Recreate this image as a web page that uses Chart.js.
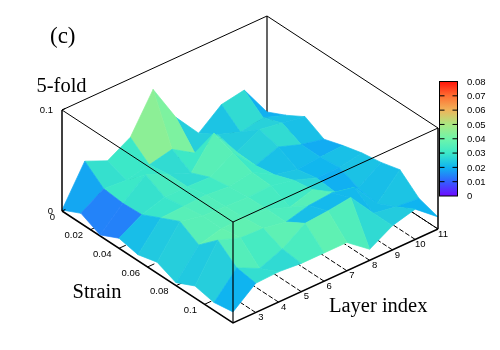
<!DOCTYPE html>
<html>
<head>
  <meta charset="UTF-8">
  <title>5-fold</title>
  <style>
    html, body { margin: 0; background: #fff; }
    #wrap { width: 500px; height: 350px; }
  </style>
  <script src="https://cdn.jsdelivr.net/npm/chart.js"></script>
</head>
<body>
  <div id="wrap"><canvas id="c" width="500" height="350"></canvas></div>
  <script>
    const strain = [0, 0.0133, 0.0267, 0.04, 0.0533, 0.0667, 0.08, 0.0933, 0.1067, 0.12];
    const layers = [2, 3, 4, 5, 6, 7, 8, 9, 10, 11];
    // 5-fold fraction, one row per strain, one column per layer
    const fold = [
      [0.001, 0.039, 0.029, 0.042, 0.079, 0.041, 0.015, 0.033, 0.037, 0.005],
      [0.010, 0.024, 0.022, 0.027, 0.032, 0.018, 0.026, 0.018, 0.022, 0.014],
      [0.001, 0.022, 0.040, 0.030, 0.021, 0.050, 0.021, 0.033, 0.029, 0.025],
      [0.010, 0.023, 0.030, 0.030, 0.029, 0.043, 0.020, 0.028, 0.020, 0.015],
      [0.006, 0.032, 0.033, 0.034, 0.032, 0.036, 0.023, 0.018, 0.020, 0.021],
      [0.011, 0.041, 0.036, 0.035, 0.034, 0.035, 0.030, 0.022, 0.022, 0.026],
      [0.003, 0.030, 0.036, 0.036, 0.034, 0.026, 0.033, 0.020, 0.014, 0.029],
      [0.012, 0.047, 0.039, 0.038, 0.034, 0.040, 0.042, 0.037, 0.011, 0.034],
      [0.008, 0.032, 0.021, 0.030, 0.045, 0.047, 0.050, 0.024, 0.020, 0.018],
      [0.011, 0.029, 0.030, 0.028, 0.028, 0.028, 0.011, 0.024, 0.030, 0.012]
    ];
    // cells whose colour reads differently from the mean of their corners: [row, column, value]
    const cellLevels = [
      [1, 1, 0.030], [3, 0, 0.022], [4, 0, 0.024], [5, 0, 0.025], [6, 0, 0.024],
      [7, 0, 0.025], [8, 0, 0.020], [7, 4, 0.022], [7, 5, 0.021], [7, 6, 0.021],
      [7, 7, 0.022], [7, 8, 0.023]
    ];
    const strainTicks = [0.02, 0.04, 0.06, 0.08, 0.1];
    const layerTicks = [3, 4, 5, 6, 7, 8, 9, 10, 11];
    const foldTicks = [0, 0.1];
    const levelTicks = [0, 0.01, 0.02, 0.03, 0.04, 0.05, 0.06, 0.07, 0.08];
    const levelColors = [
      [110, 10, 255], [50, 95, 255], [15, 180, 240], [60, 232, 200], [110, 245, 170],
      [170, 232, 130], [240, 180, 90], [255, 110, 50], [255, 20, 10]
    ];

    // fixed oblique view of the box
    function project(s, l, z) {
      const a = s / 0.12, b = (l - 2) / 9;
      return { x: 62 + a * 171 + b * 205, y: 211 + a * 112 - b * 94 - z * 1010 };
    }

    function colorFor(v) {
      const t = Math.max(0, Math.min(7.999, v / 0.01));
      const k = Math.floor(t), f = t - k;
      const c = levelColors[k].map((p, n) => Math.round(p + (levelColors[k + 1][n] - p) * f));
      return `rgb(${c[0]},${c[1]},${c[2]})`;
    }

    function lineSet(points, width, dash) {
      return {
        data: points, borderColor: '#000', borderWidth: width, borderDash: dash || [],
        pointRadius: 0, fill: false, tension: 0
      };
    }

    const sets = [];

    // things that sit behind the surface
    const sMax = 0.12;
    sets.push(lineSet([project(0, 11, 0.1), project(0, 11, 0)], 1.2));
    sets.push(lineSet([project(0, 2, 0), project(0, 11, 0), project(sMax, 11, 0)], 1));
    layerTicks.forEach(l => {
      sets.push(lineSet([project(sMax, l, 0), project(sMax - 0.019, l, 0)], 1, [5, 2]));
    });
    strainTicks.forEach(s => {
      sets.push(lineSet([project(s, 2, 0), project(s, 2.3, 0)], 1));
    });
    sets.push(lineSet([project(0, 2, 0), project(sMax, 2, 0), project(sMax, 11, 0)], 1.5));

    // cells, back to front
    for (let i = 0; i < strain.length - 1; i++) {
      for (let j = layers.length - 2; j >= 0; j--) {
        const corners = [[i, j], [i, j + 1], [i + 1, j + 1], [i + 1, j], [i, j]];
        const own = cellLevels.find(c => c[0] === i && c[1] === j);
        const avg = own ? own[2] : (fold[i][j] + fold[i][j + 1] + fold[i + 1][j + 1] + fold[i + 1][j]) / 4;
        const col = colorFor(avg);
        sets.push({
          data: corners.map(([a, b]) => project(strain[a], layers[b], fold[a][b])),
          borderColor: col, backgroundColor: col, borderWidth: 0.7,
          pointRadius: 0, fill: 'shape', tension: 0
        });
      }
    }

    // box edges on top of the surface
    sets.push(lineSet([project(0, 2, 0.1), project(0, 11, 0.1), project(sMax, 11, 0.1), project(sMax, 2, 0.1), project(0, 2, 0.1)], 1));
    sets.push(lineSet([project(0, 2, 0), project(0, 2, 0.1)], 1.5));
    sets.push(lineSet([project(sMax, 2, 0), project(sMax, 2, 0.1)], 1.2));
    sets.push(lineSet([project(sMax, 11, 0), project(sMax, 11, 0.1)], 1.5));
    foldTicks.forEach(z => {
      sets.push(lineSet([project(0, 2, z), project(0, 2.15, z)], 1));
    });

    const labels = {
      id: 'labels',
      afterDatasetsDraw(chart) {
        const ctx = chart.ctx;
        const sx = chart.scales.x, sy = chart.scales.y;
        const px = p => ({ x: sx.getPixelForValue(p.x), y: sy.getPixelForValue(p.y) });
        ctx.save();

        // colour bar
        const bar = { l: 439.5, r: 457.5, t: 81.5, b: 196 };
        const g = ctx.createLinearGradient(0, bar.b, 0, bar.t);
        levelColors.forEach((c, n) => g.addColorStop(n / 8, `rgb(${c[0]},${c[1]},${c[2]})`));
        ctx.fillStyle = g;
        ctx.fillRect(bar.l, bar.t, bar.r - bar.l, bar.b - bar.t);
        ctx.strokeStyle = '#000';
        ctx.lineWidth = 1;
        ctx.strokeRect(bar.l, bar.t, bar.r - bar.l, bar.b - bar.t);

        ctx.font = '9.5px "Liberation Sans"';
        ctx.fillStyle = '#000';
        ctx.textBaseline = 'middle';
        ctx.textAlign = 'left';
        levelTicks.forEach(v => {
          const y = bar.b - v / 0.08 * (bar.b - bar.t);
          if (v > 0 && v < 0.08) {
            ctx.beginPath();
            ctx.moveTo(bar.l, y); ctx.lineTo(bar.l + 5, y);
            ctx.moveTo(bar.r - 5, y); ctx.lineTo(bar.r, y);
            ctx.stroke();
          }
          ctx.fillText(String(v), 467, y + 0.5);
        });

        // tick labels
        ctx.textAlign = 'right';
        strainTicks.forEach(s => {
          const p = px(project(s, 2, 0));
          ctx.fillText(String(s), p.x - 7.5, p.y + 6);
        });
        ctx.fillText('0', 55, 217);
        foldTicks.forEach(z => {
          const p = px(project(0, 2, z));
          ctx.fillText(String(z), p.x - 9, p.y);
        });
        ctx.textAlign = 'center';
        layerTicks.forEach(l => {
          const p = px(project(sMax, l, 0));
          ctx.fillText(String(l), p.x + 5, p.y + 5);
        });

        // titles
        ctx.textAlign = 'left';
        ctx.textBaseline = 'alphabetic';
        ctx.font = '23px "Liberation Serif"';
        ctx.fillText('(c)', 50, 43);
        ctx.font = '20.5px "Liberation Serif"';
        ctx.fillText('5-fold', 36.5, 92);
        ctx.fillText('Strain', 72.5, 298);
        ctx.fillText('Layer index', 329, 312);
        ctx.restore();
      }
    };

    new Chart(document.getElementById('c'), {
      type: 'line',
      data: { datasets: sets.reverse() },
      options: {
        responsive: false,
        animation: false,
        events: [],
        parsing: false,
        normalized: false,
        layout: { padding: 0 },
        plugins: { legend: { display: false }, tooltip: { enabled: false } },
        scales: {
          x: { type: 'linear', min: 0, max: 500, display: false },
          y: { type: 'linear', min: 0, max: 350, reverse: true, display: false }
        }
      },
      plugins: [labels]
    });
  </script>
</body>
</html>
